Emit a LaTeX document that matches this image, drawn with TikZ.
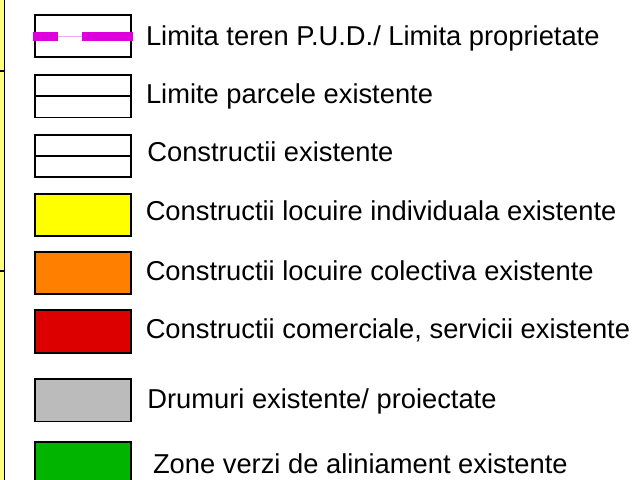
\documentclass[tikz,border=0pt]{standalone}
\usepackage{fontspec}
\setmainfont{Liberation Sans}
\usepackage{xcolor}
\usepackage{tikz}
\usetikzlibrary{calc}
\definecolor{pudmagenta}{RGB}{221,0,221}
\definecolor{legyellow}{RGB}{255,255,0}
\definecolor{legorange}{RGB}{255,128,0}
\definecolor{legred}{RGB}{221,0,0}
\definecolor{leggray}{RGB}{187,187,187}
\definecolor{leggreen}{RGB}{0,180,0}
\definecolor{stripyellow}{RGB}{255,255,128}
\tikzset{ swatch/.style = {rectangle, draw=black, line width=1.1pt, minimum width=1.914cm, minimum height=0.844cm, inner sep=0pt} }
\tikzset{ legtext/.style = {anchor=base west, inner sep=0pt, font=\fontsize{15.55}{18}\selectfont} }
\tikzset{ pudline/.style = {pudmagenta, line width=4.8pt} }

\begin{document}
\begin{tikzpicture}[x=0.02cm,y=-0.02cm]
        \useasboundingbox (0,0) rectangle (636,480);
        \clip (0,0) rectangle (636,480);
        \fill[stripyellow] (0,0) rectangle (4.5,480);
        \draw[line width=0.6pt] (4.6,0) -- (4.6,480);
        \draw[line width=0.6pt] (0,71) -- (4.6,71);
        \draw[line width=0.6pt] (0,271) -- (4.6,271);
        \node[swatch] (s1) at (82.85,36.35) {};
        \node[swatch] (s2) at (82.85,96.4) {};
        \node[swatch] (s3) at (82.85,156) {};
        \node[swatch, fill=legyellow] (s4) at (82.85,214.75) {};
        \node[swatch, fill=legorange] (s5) at (82.85,273.05) {};
        \node[swatch, fill=legred] (s6) at (82.85,331.5) {};
        \node[swatch, fill=leggray] (s7) at (82.85,400.4) {};
        \node[swatch, fill=leggreen] (s8) at (82.85,463.4) {};
        \draw[line width=1.1pt] (s2.west) -- (s2.east);
        \draw[line width=1.1pt] (s3.west) -- (s3.east);
        \draw[pudmagenta!35, line width=0.6pt] ($(s1.west)+(-1,0)$) -- ($(s1.east)+(1,0)$);
        \draw[pudline] ($(s1.west)+(-1,0)$) -- ++(25,0);
        \draw[pudline] ($(s1.east)+(1,0)$) -- ++(-51,0);
        \node[legtext] (t1) at (145.7,45) {Limita teren P.U.D./ Limita proprietate};
        \node[legtext] (t2) at (145.7,103) {Limite parcele existente};
        \node[legtext] (t3) at (147,161.5) {Constructii existente};
        \node[legtext] (t4) at (145.4,220.5) {Constructii locuire individuala existente};
        \node[legtext] (t5) at (145.4,280.5) {Constructii locuire colectiva existente};
        \node[legtext] (t6) at (145.4,338.5) {Constructii comerciale, servicii existente};
        \node[legtext] (t7) at (147,408) {Drumuri existente/ proiectate};
        \node[legtext] (t8) at (152.7,473) {Zone verzi de aliniament existente};
\end{tikzpicture}
\end{document}
